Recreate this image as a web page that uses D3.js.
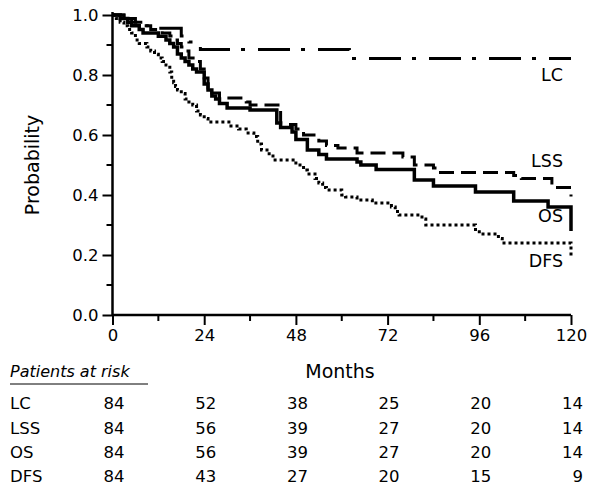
<!DOCTYPE html>
<html><head><meta charset="utf-8">
<script src="https://cdn.jsdelivr.net/npm/d3@7"></script>
<style>body{margin:0;background:#fff}svg{display:block}text{font-family:"DejaVu Sans",Verdana,sans-serif;fill:#000}</style>
</head><body>
<svg id="c" width="599" height="492"></svg>
<script>
const lcTimes = [0, 3, 6, 8, 11, 18, 20, 23, 62, 120];
const lcSurv  = [1, 0.988, 0.976, 0.964, 0.956, 0.93, 0.91, 0.885, 0.855, 0.855];

const lssTimes = [0, 3, 5, 8, 10, 13, 15, 16, 17, 18, 19, 20, 22, 23, 24, 25, 26, 28, 35, 36, 43, 44, 48, 50, 54, 56, 59, 64, 76, 79, 84, 85, 105, 107, 115, 120];
const lssSurv  = [1, 0.988, 0.976, 0.964, 0.952, 0.94, 0.93, 0.917, 0.905, 0.893, 0.88, 0.857, 0.845, 0.82, 0.79, 0.757, 0.74, 0.723, 0.71, 0.7, 0.7, 0.635, 0.62, 0.6, 0.58, 0.565, 0.557, 0.54, 0.527, 0.5, 0.49, 0.475, 0.465, 0.455, 0.425, 0.395];

const osTimes = [0, 2, 4, 5, 7, 8, 12, 14, 15, 16, 17, 18, 19, 20, 21, 22, 24, 25, 26, 27, 28, 30, 36, 43, 44, 47, 48, 51, 54, 56, 64, 65, 69, 79, 84, 95, 105, 114, 120];
const osSurv  = [1, 0.988, 0.976, 0.964, 0.952, 0.94, 0.929, 0.917, 0.905, 0.893, 0.87, 0.857, 0.845, 0.833, 0.82, 0.81, 0.77, 0.75, 0.73, 0.72, 0.705, 0.69, 0.683, 0.64, 0.625, 0.61, 0.585, 0.55, 0.535, 0.52, 0.51, 0.5, 0.485, 0.45, 0.43, 0.41, 0.38, 0.36, 0.28];

const dfsTimes = [0, 1, 2, 3, 4, 5, 6, 7, 9, 10, 11, 12, 13, 14, 15, 15.5, 16, 16.5, 17, 18, 19, 20, 21, 22, 23, 24, 25, 31, 33, 35, 37, 38, 39, 41, 42, 48, 50, 51, 53, 54, 55, 56, 60, 61, 64, 68, 73, 74, 75, 81, 82, 95, 96, 101, 102, 120];
const dfsSurv  = [1, 0.988, 0.976, 0.964, 0.952, 0.94, 0.917, 0.905, 0.893, 0.88, 0.869, 0.857, 0.845, 0.833, 0.81, 0.786, 0.774, 0.762, 0.75, 0.738, 0.72, 0.71, 0.7, 0.68, 0.667, 0.655, 0.643, 0.63, 0.62, 0.607, 0.595, 0.57, 0.55, 0.53, 0.517, 0.5, 0.483, 0.47, 0.455, 0.44, 0.425, 0.417, 0.4, 0.393, 0.383, 0.373, 0.36, 0.345, 0.333, 0.32, 0.3, 0.285, 0.27, 0.255, 0.24, 0.195];

const seriesNames = ["LC", "LSS", "OS", "DFS"];
const xTicks = [0, 24, 48, 72, 96, 120];
const yTicks = [0.0, 0.2, 0.4, 0.6, 0.8, 1.0];
const atRiskLC  = [84, 52, 38, 25, 20, 14];
const atRiskLSS = [84, 56, 39, 27, 20, 14];
const atRiskOS  = [84, 56, 39, 27, 20, 14];
const atRiskDFS = [84, 43, 27, 20, 15, 9];

const svg = d3.select("#c");
const x = d3.scaleLinear().domain([0, 120]).range([112.5, 571]);
const y = d3.scaleLinear().domain([0, 1]).range([315, 15]);

// axes
const xAxis = d3.axisBottom(x).tickValues(xTicks).tickSize(10).tickPadding(4).tickFormat(d3.format("d"));
const gx = svg.append("g").attr("transform", "translate(0,315)").call(xAxis);
gx.append("g").selectAll("line").data(d3.range(12, 120, 24)).join("line")
  .attr("x1", d => x(d)).attr("x2", d => x(d)).attr("y1", 0).attr("y2", 6).attr("stroke", "#000").attr("stroke-width", 2);
const yAxis = d3.axisLeft(y).tickValues(yTicks).tickSize(10).tickPadding(4).tickFormat(d3.format(".1f"));
const gy = svg.append("g").attr("transform", "translate(112.5,0)").call(yAxis);
gy.append("g").selectAll("line").data(d3.range(0.1, 1.0, 0.2)).join("line")
  .attr("y1", d => y(d)).attr("y2", d => y(d)).attr("x1", 0).attr("x2", -6).attr("stroke", "#000").attr("stroke-width", 2);
[gx, gy].forEach(g => {
  g.select(".domain").attr("stroke-width", 2.5);
  g.selectAll(".tick line").attr("stroke-width", 2);
  g.selectAll(".tick text").attr("font-size", 16.5).attr("font-family", "DejaVu Sans, Verdana, sans-serif");
});
gx.select(".domain").attr("d", `M${x(0)},0H${x(120)}`);
gy.select(".domain").attr("d", `M0,${y(1.01)}V${y(0)}`);

// curves
const line = d3.line().x(d => x(d[0])).y(d => y(d[1])).curve(d3.curveStepAfter);
const curves = [
  {t: lcTimes, s: lcSurv, dash: "32,11,4,13", w: 3},
  {t: lssTimes, s: lssSurv, dash: "15,7", w: 3},
  {t: osTimes, s: osSurv, dash: null, w: 3.5},
  {t: dfsTimes, s: dfsSurv, dash: "3,3", w: 3}
];
curves.forEach(c => {
  svg.append("path").datum(d3.zip(c.t, c.s)).attr("d", line)
    .attr("fill", "none").attr("stroke", "#000").attr("stroke-width", c.w)
    .attr("stroke-dasharray", c.dash);
});

// curve labels
const labelY = [0.78, 0.495, 0.31, 0.16];
svg.append("g").selectAll("text").data(seriesNames).join("text")
  .attr("x", 563).attr("y", (d, i) => y(labelY[i])).attr("text-anchor", "end").attr("font-size", 17.5).text(d => d);

// axis titles
svg.append("text").attr("transform", `translate(39,165) rotate(-90)`).attr("text-anchor", "middle")
  .attr("font-size", 19).text("Probability");
svg.append("text").attr("x", 340).attr("y", 378).attr("text-anchor", "middle").attr("font-size", 19).text("Months");

// at-risk table
svg.append("text").attr("x", 10).attr("y", 377).attr("font-size", 16).attr("font-style", "italic").text("Patients at risk");
svg.append("line").attr("x1", 10).attr("x2", 148).attr("y1", 384).attr("y2", 384).attr("stroke", "#000").attr("stroke-width", 1);
const risk = [atRiskLC, atRiskLSS, atRiskOS, atRiskDFS];
const rowY = [409, 434, 458, 482];
seriesNames.forEach((n, i) => {
  svg.append("text").attr("x", 10).attr("y", rowY[i]).attr("font-size", 16.5).text(n);
  svg.append("g").selectAll("text").data(risk[i]).join("text")
    .attr("x", (d, j) => x(xTicks[j]) + 12).attr("y", rowY[i]).attr("text-anchor", "end").attr("font-size", 16.5).text(d => d);
});
</script>
</body></html>
